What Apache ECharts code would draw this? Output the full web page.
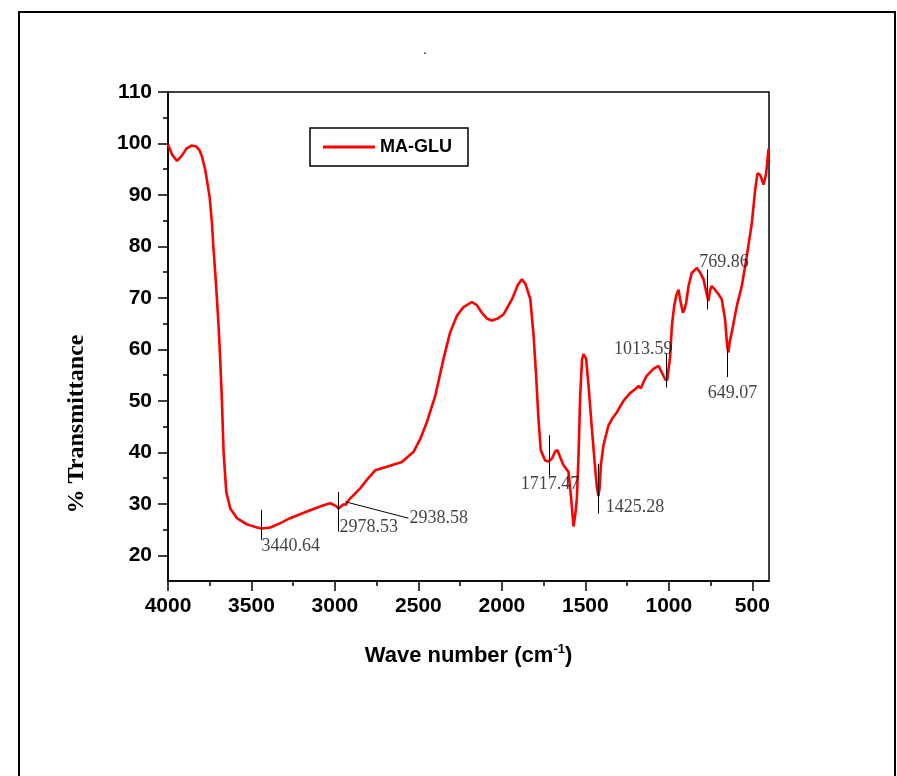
<!DOCTYPE html>
<html>
<head>
<meta charset="utf-8">
<script src="https://cdn.jsdelivr.net/npm/echarts@6/dist/echarts.min.js"></script>
<style>
  html, body { margin: 0; padding: 0; background: #fff; }
  #chart { width: 897px; height: 776px; }
</style>
</head>
<body>
<div id="chart"></div>
<script>
// FTIR spectrum of MA-GLU: wave number (cm-1) vs % transmittance
const seriesName = 'MA-GLU';

const wavenumbers = [
  4000, 3975, 3946, 3920, 3890, 3860, 3830, 3810, 3796, 3777,
  3751, 3737, 3727, 3713, 3697, 3690, 3680, 3677, 3667, 3651,
  3627, 3587, 3527, 3467, 3440, 3387, 3330, 3268, 3168, 3068,
  3028, 2995, 2978, 2960, 2948, 2935, 2918, 2849, 2800, 2759,
  2689, 2599, 2529, 2489, 2449, 2399, 2350, 2310, 2270, 2230,
  2180, 2150, 2120, 2090, 2060, 2025, 1990, 1940, 1905, 1880,
  1860, 1830, 1810, 1795, 1781, 1767, 1741, 1721, 1700, 1680,
  1667, 1650, 1631, 1601, 1585, 1571, 1560, 1551, 1541, 1531,
  1520, 1511, 1495, 1481, 1461, 1441, 1430, 1422, 1415, 1407,
  1392, 1375, 1362, 1340, 1311, 1290, 1272, 1232, 1200, 1182,
  1168, 1150, 1132, 1092, 1062, 1042, 1022, 1010, 1002, 992,
  982, 968, 955, 942, 932, 916, 906, 896, 882, 862,
  832, 812, 792, 775, 763, 753, 743, 723, 700, 683,
  663, 650, 643, 635, 623, 593, 563, 533, 503, 483,
  469, 455, 443, 433, 425, 417, 410, 404, 400
];

const transmittance = [
  99.8, 97.8, 96.6, 97.5, 99.0, 99.6, 99.4, 98.6, 97.4, 94.9,
  89.7, 84.6, 79.4, 73.0, 64.5, 60.0, 52.5, 49.8, 40.1, 32.3,
  29.1, 27.2, 26.0, 25.4, 25.2, 25.4, 26.2, 27.2, 28.5, 29.7,
  30.1, 29.6, 29.1, 29.6, 29.9, 29.8, 30.7, 33.0, 35.0, 36.5,
  37.2, 38.1, 40.1, 42.6, 45.9, 51.0, 58.1, 63.3, 66.5, 68.2,
  69.2, 68.6, 67.1, 66.0, 65.6, 66.0, 66.8, 69.7, 72.5, 73.6,
  72.8, 69.8, 62.6, 54.9, 46.5, 40.4, 38.4, 38.2, 38.8, 40.2,
  40.4, 39.0, 37.5, 36.2, 31.0, 25.6, 28.0, 31.0, 39.4, 51.0,
  58.0, 59.1, 58.1, 52.9, 44.6, 36.8, 33.0, 31.5, 33.0, 37.5,
  41.3, 43.5, 45.2, 46.5, 47.8, 49.0, 50.0, 51.5, 52.3, 52.9,
  52.4, 53.8, 54.9, 56.2, 56.8, 55.5, 54.2, 54.0, 53.9, 58.7,
  64.5, 68.4, 70.5, 71.6, 69.7, 67.1, 67.8, 69.1, 72.3, 74.9,
  75.8, 74.9, 73.6, 71.0, 69.4, 71.5, 72.3, 71.6, 70.6, 69.7,
  65.8, 60.5, 59.4, 61.5, 63.3, 68.4, 72.3, 78.1, 84.5, 91.0,
  94.2, 94.0, 93.0, 92.0, 93.0, 94.2, 96.5, 98.7, 99.0
];

// Peak annotations: stated wave number, tick span (in % T)
const peakLabels      = ['3440.64', '2978.53', '1717.47', '1425.28', '1013.59', '769.86', '649.07'];
const peakWavenumbers = [3440.64, 2978.53, 1717.47, 1425.28, 1013.59, 769.86, 649.07];
const peakTickTop     = [28.8, 32.3, 43.3, 37.8, 59.1, 75.5, 60.7];
const peakTickBottom  = [23.0, 24.6, 35.5, 28.1, 52.6, 67.8, 54.6];

// Leader-line annotation
const leaderLabel = '2938.58';
const leaderFrom  = [2938.58, 30.4];
const leaderTo    = [2560, 27.2];

// Axis ticks
const xMajorTicks = [500, 1000, 1500, 2000, 2500, 3000, 3500, 4000];
const xMinorTicks = [750, 1250, 1750, 2250, 2750, 3250, 3750];
const yMajorTicks = [20, 30, 40, 50, 60, 70, 80, 90, 100, 110];
const yMinorTicks = [25, 35, 45, 55, 65, 75, 85, 95, 105];

// Label placement for each peak label (anchor end of tick, pixel offset, alignment)
const peakLabelStyle = [
  { anchor: 'bottom', offset: [0, 6],   align: 'left' },
  { anchor: 'bottom', offset: [1, -4],  align: 'left' },
  { anchor: 'bottom', offset: [1, 9],   align: 'center' },
  { anchor: 'bottom', offset: [8, -6],  align: 'left' },
  { anchor: 'top',    offset: [6, -5],  align: 'right' },
  { anchor: 'top',    offset: [-8, -7], align: 'left' },
  { anchor: 'bottom', offset: [5, 16],  align: 'center' }
];

const serifFont = '"Liberation Serif", "Times New Roman", serif';
const sansFont = '"Liberation Sans", Arial, sans-serif';

const spectrum = wavenumbers.map((w, i) => [w, transmittance[i]]);

const tickSegments = peakWavenumbers.map((w, i) => ({
  coords: [[w, peakTickTop[i]], [w, peakTickBottom[i]]]
}));
tickSegments.push({ coords: [leaderFrom, leaderTo] });

const labelPoints = peakWavenumbers.map((w, i) => {
  const st = peakLabelStyle[i];
  const y = st.anchor === 'top' ? peakTickTop[i] : peakTickBottom[i];
  return {
    value: [w, y],
    label: {
      show: true,
      formatter: peakLabels[i],
      position: st.offset,
      align: st.align,
      verticalAlign: 'middle'
    }
  };
});
labelPoints.push({
  value: leaderTo,
  label: { show: true, formatter: leaderLabel, position: [1, 0], align: 'left', verticalAlign: 'middle' }
});

const axisTextStyle = { color: '#000', fontFamily: sansFont, fontWeight: 'bold', fontSize: 21 };
const plainNumber = v => String(v);

const chart = echarts.init(document.getElementById('chart'), null, { renderer: 'canvas' });

chart.setOption({
  backgroundColor: '#fff',
  animation: false,
  title: {
    text: '.',
    left: 418,
    top: 38,
    textStyle: { fontSize: 14, color: '#000', fontWeight: 'normal' }
  },
  graphic: [
    {
      type: 'rect',
      shape: { x: 19, y: 12, width: 876, height: 800 },
      style: { fill: 'none', stroke: '#000', lineWidth: 2 },
      silent: true
    },
    {
      type: 'text',
      x: 77,
      y: 424,
      rotation: Math.PI / 2,
      style: {
        text: '% Transmittance',
        font: 'bold 24px ' + serifFont,
        fill: '#000',
        align: 'center',
        verticalAlign: 'middle'
      },
      silent: true
    }
  ],
  legend: {
    data: [seriesName],
    left: 310,
    top: 128,
    orient: 'horizontal',
    padding: [10, 16, 10, 13],
    borderColor: '#000',
    borderWidth: 1.5,
    icon: 'rect',
    itemWidth: 52,
    itemHeight: 3,
    textStyle: { color: '#000', fontFamily: sansFont, fontWeight: 'bold', fontSize: 18, lineHeight: 18 }
  },
  grid: {
    left: 168,
    right: 128,
    top: 92,
    bottom: 195,
    show: true,
    borderColor: '#000',
    borderWidth: 1.5,
    backgroundColor: 'transparent'
  },
  xAxis: [
    {
      type: 'value',
      min: 400,
      max: 4000,
      inverse: true,
      position: 'bottom',
      splitLine: { show: false },
      axisLine: { show: true, onZero: false, lineStyle: { color: '#000', width: 1.5 } },
      axisTick: { show: true, inside: false, length: 10, customValues: xMajorTicks, lineStyle: { color: '#000', width: 1.5 } },
      axisLabel: { show: true, margin: 15, customValues: xMajorTicks, formatter: plainNumber, ...axisTextStyle },
      name: 'Wave number (cm{sup|-1})',
      nameLocation: 'middle',
      nameGap: 62,
      nameTextStyle: {
        color: '#000', fontFamily: sansFont, fontWeight: 'bold', fontSize: 22,
        rich: {
          sup: { fontFamily: sansFont, fontWeight: 'bold', fontSize: 13, color: '#000', verticalAlign: 'top', padding: [0, 0, 12, 0] }
        }
      }
    },
    {
      type: 'value',
      min: 400,
      max: 4000,
      inverse: true,
      position: 'bottom',
      splitLine: { show: false },
      axisLine: { show: false },
      axisTick: { show: true, inside: false, length: 5, customValues: xMinorTicks, lineStyle: { color: '#000', width: 1.5 } },
      axisLabel: { show: false }
    }
  ],
  yAxis: [
    {
      type: 'value',
      min: 15,
      max: 110,
      position: 'left',
      splitLine: { show: false },
      axisLine: { show: true, onZero: false, lineStyle: { color: '#000', width: 1.5 } },
      axisTick: { show: true, inside: false, length: 10, customValues: yMajorTicks, lineStyle: { color: '#000', width: 1.5 } },
      axisLabel: { show: true, margin: 16, customValues: yMajorTicks, formatter: plainNumber, ...axisTextStyle }
    },
    {
      type: 'value',
      min: 15,
      max: 110,
      position: 'left',
      splitLine: { show: false },
      axisLine: { show: false },
      axisTick: { show: true, inside: false, length: 5, customValues: yMinorTicks, lineStyle: { color: '#000', width: 1.5 } },
      axisLabel: { show: false }
    }
  ],
  series: [
    {
      name: seriesName,
      type: 'line',
      xAxisIndex: 0,
      yAxisIndex: 0,
      data: spectrum,
      symbol: 'none',
      showSymbol: false,
      smooth: false,
      lineStyle: { color: '#ff0000', width: 2.6 },
      itemStyle: { color: '#ff0000' },
      z: 3
    },
    {
      name: 'peak ticks',
      type: 'lines',
      coordinateSystem: 'cartesian2d',
      xAxisIndex: 0,
      yAxisIndex: 0,
      data: tickSegments,
      lineStyle: { color: '#000', width: 1, opacity: 1 },
      silent: true,
      z: 4
    },
    {
      name: 'peak labels',
      type: 'scatter',
      xAxisIndex: 0,
      yAxisIndex: 0,
      data: labelPoints,
      symbolSize: 0,
      silent: true,
      label: { color: '#111', fontFamily: serifFont, fontSize: 18 },
      z: 5
    }
  ]
});
</script>
</body>
</html>
